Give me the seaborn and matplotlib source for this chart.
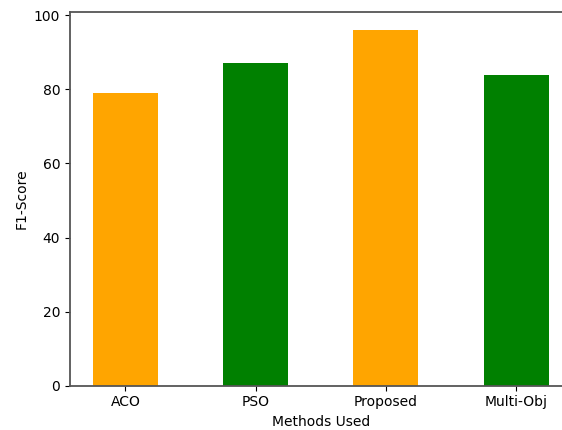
import matplotlib
matplotlib.use("Agg")
import matplotlib.pyplot as plt
import seaborn as sns
import pandas as pd

methods = ["ACO", "PSO", "Proposed", "Multi-Obj"]
f1_scores = [79, 87, 96, 84]
bar_colors = ["orange", "green", "orange", "green"]

df = pd.DataFrame({"Method": methods, "F1": f1_scores})

fig = plt.figure(figsize=(5.62, 4.30), dpi=100)
ax = fig.add_axes([70 / 562, (430 - 385.7) / 430, 501.5 / 562, 373.4 / 430])

sns.barplot(data=df, x="Method", y="F1", hue="Method", palette=bar_colors,
            saturation=1, width=0.5, linewidth=0, legend=False, ax=ax)

ax.set_xlim(-0.425, 3.425)
ax.set_ylim(0, 100.8)
ax.set_yticks([0, 20, 40, 60, 80, 100])
ax.set_xlabel("Methods Used", fontsize=10)
ax.set_ylabel("F1-Score", fontsize=10)
ax.tick_params(labelsize=10)
for s in ax.spines.values():
    s.set_color("#555555")
    s.set_linewidth(1.3)

fig.savefig("out.png", dpi=100)
